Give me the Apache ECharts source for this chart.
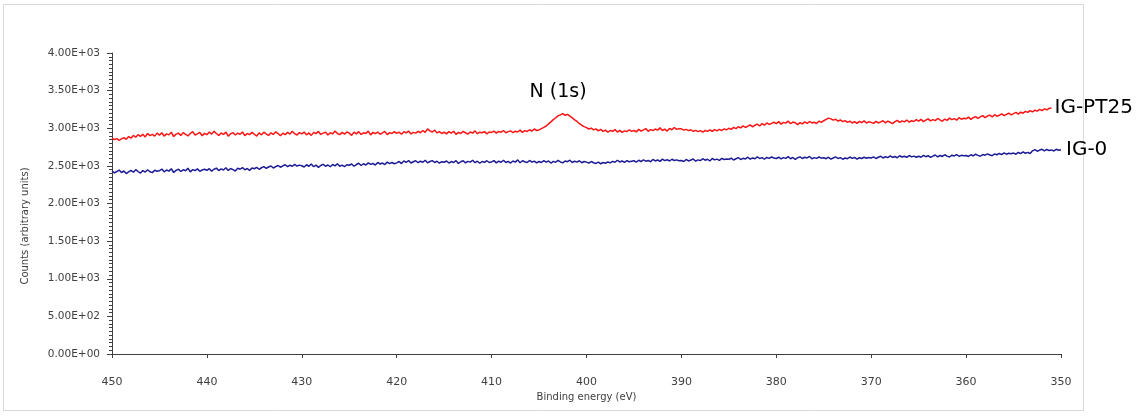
<!DOCTYPE html>
<html>
<head>
<meta charset="utf-8">
<title>XPS N (1s) region</title>
<script src="https://cdn.jsdelivr.net/npm/echarts@6/dist/echarts.min.js"></script>
<style>
  html, body { margin: 0; padding: 0; background: #ffffff; }
  #chart { width: 1147px; height: 416px; }
</style>
</head>
<body>
<div id="chart"></div>
<script>
// Binding-energy grid of the scans (eV), high to low, 0.25 eV steps
const energyStart = 450;
const energyStep = 0.25;

// IG-PT25 counts, 450 eV down to 351 eV (20 points per 5 eV)
const countsPT25 = [
  2870, 2848, 2862, 2840, 2858, 2875, 2852, 2890, 2868, 2905, 2880, 2915, 2892, 2920, 2885, 2930, 2902, 2918, 2895, 2935,
  2908, 2940, 2895, 2925, 2912, 2948, 2890, 2922, 2935, 2905, 2942, 2918, 2898, 2930, 2955, 2910, 2925, 2945, 2900, 2932,
  2915, 2950, 2922, 2960, 2930, 2905, 2938, 2918, 2948, 2895, 2928, 2940, 2910, 2935, 2920, 2950, 2902, 2930, 2915, 2945,
  2920, 2895, 2938, 2912, 2948, 2925, 2905, 2940, 2918, 2952, 2930, 2900, 2935, 2915, 2945, 2922, 2960, 2928, 2910, 2942,
  2925, 2950, 2912, 2938, 2905, 2945, 2928, 2958, 2918, 2935, 2948, 2910, 2940, 2925, 2962, 2930, 2915, 2945, 2922, 2950,
  2935, 2905, 2948, 2925, 2955, 2918, 2940, 2930, 2962, 2912, 2945, 2928, 2950, 2920, 2938, 2958, 2915, 2942, 2930, 2955,
  2932, 2948, 2920, 2955, 2938, 2962, 2925, 2945, 2935, 2958, 2940, 2970, 2945, 2992, 2965, 2950, 2975, 2938, 2955, 2930,
  2948, 2925, 2955, 2935, 2960, 2918, 2945, 2930, 2958, 2940, 2922, 2950, 2935, 2965, 2928, 2948, 2940, 2955, 2925, 2950,
  2945, 2962, 2935, 2958, 2948, 2970, 2940, 2955, 2965, 2942, 2960, 2950, 2975, 2945, 2968, 2958, 2980, 2962, 2990, 2970,
  2978, 2995, 3012, 3030, 3058, 3085, 3115, 3140, 3165, 3178, 3195, 3172, 3185, 3160, 3138, 3112, 3090, 3060, 3040, 3022,
  3008, 2990, 3002, 2978, 2992, 2965, 2985, 2958, 2975, 2948, 2970, 2960, 2982, 2950, 2972, 2945, 2965, 2955, 2980, 2958,
  2970, 2952, 2985, 2962, 2978, 2995, 2960, 2982, 2968, 2990, 2975, 3005, 2970, 2988, 2962, 2998, 2980, 3010, 2985, 2995,
  2992, 2975, 2985, 2968, 2980, 2958, 2972, 2955, 2968, 2950, 2970, 2958, 2978, 2960, 2982, 2965, 2985, 2970, 2992, 2978,
  3000, 2985, 3012, 2995, 3020, 3005, 3032, 3010, 3028, 3045, 3018, 3040, 3055, 3030, 3062, 3042, 3070, 3050, 3065, 3080,
  3062, 3088, 3055, 3078, 3068, 3095, 3060, 3082, 3072, 3048, 3075, 3058, 3085, 3065, 3090, 3070, 3080, 3062, 3095, 3078,
  3100, 3118, 3135, 3125, 3108, 3120, 3095, 3110, 3088, 3102, 3078, 3095, 3070, 3088, 3065, 3092, 3075, 3098, 3070, 3085,
  3078, 3065, 3092, 3070, 3085, 3100, 3072, 3095, 3080, 3062, 3088, 3105, 3078, 3098, 3085, 3110, 3082, 3100, 3090, 3115,
  3095, 3118, 3088, 3108, 3125, 3098, 3115, 3102, 3130, 3110, 3092, 3122, 3105, 3135, 3115, 3128, 3108, 3140, 3120, 3132,
  3125, 3148, 3118, 3140, 3155, 3132, 3150, 3168, 3140, 3162, 3175, 3150, 3180, 3160, 3172, 3190, 3168, 3185, 3200, 3178,
  3195, 3210, 3188, 3215, 3200, 3225, 3210, 3235, 3218, 3240, 3228, 3250, 3235, 3258, 3245, 3265, 3270
];

// IG-0 counts, 450 eV down to 350 eV (20 points per 5 eV)
const countsIG0 = [
  2430, 2408, 2425, 2445, 2412, 2432, 2398, 2420, 2440, 2415, 2450, 2425, 2405, 2438, 2418, 2448, 2422, 2410, 2442, 2428,
  2435, 2458, 2420, 2445, 2430, 2462, 2412, 2440, 2455, 2425, 2448, 2435, 2468, 2420, 2450, 2438, 2460, 2428, 2445, 2455,
  2440, 2462, 2430, 2455, 2470, 2438, 2460, 2445, 2475, 2440, 2465, 2450, 2432, 2468, 2455, 2478, 2448, 2465, 2440, 2472,
  2462, 2480, 2455, 2475, 2490, 2468, 2485, 2498, 2472, 2490, 2505, 2482, 2500, 2515, 2490, 2508, 2495, 2520, 2498, 2510,
  2502, 2485, 2515, 2495, 2525, 2490, 2510, 2480, 2505, 2520, 2495, 2512, 2488, 2518, 2500, 2528, 2495, 2510, 2490, 2515,
  2508, 2525, 2495, 2518, 2535, 2505, 2528, 2512, 2540, 2520, 2532, 2510, 2545, 2525, 2538, 2518, 2550, 2530, 2545, 2528,
  2540, 2558, 2530, 2565, 2545, 2572, 2538, 2555, 2568, 2542, 2562, 2548, 2575, 2540, 2558, 2570, 2545, 2562, 2535, 2555,
  2548, 2565, 2538, 2558, 2545, 2570, 2532, 2555, 2568, 2540, 2560, 2550, 2575, 2542, 2562, 2535, 2558, 2548, 2568, 2545,
  2552, 2570, 2540, 2562, 2548, 2575, 2545, 2560, 2538, 2565, 2550, 2580, 2542, 2568, 2555, 2545, 2572, 2550, 2562, 2540,
  2558, 2545, 2570, 2550, 2565, 2538, 2560, 2548, 2572, 2552, 2540, 2565, 2555, 2575, 2545, 2562, 2550, 2568, 2542, 2558,
  2550, 2538, 2558, 2542, 2532, 2550, 2528, 2545, 2535, 2552, 2540, 2560, 2548, 2575, 2552, 2565, 2545, 2570, 2555, 2562,
  2568, 2550, 2575, 2558, 2580, 2562, 2572, 2555, 2585, 2565, 2578, 2560, 2590, 2570, 2582, 2565, 2588, 2572, 2580, 2568,
  2572, 2558, 2585, 2565, 2578, 2592, 2562, 2580, 2570, 2595, 2575, 2588, 2565, 2598, 2580, 2590, 2572, 2600, 2585, 2592,
  2588, 2602, 2578, 2595, 2610, 2585, 2600, 2592, 2615, 2590, 2605, 2595, 2620, 2598, 2610, 2588, 2612, 2600, 2618, 2605,
  2598, 2615, 2592, 2610, 2600, 2622, 2595, 2612, 2585, 2608, 2620, 2598, 2615, 2605, 2625, 2595, 2610, 2600, 2618, 2602,
  2608, 2595, 2615, 2590, 2605, 2620, 2598, 2610, 2588, 2605, 2595, 2618, 2600, 2612, 2590, 2608, 2598, 2615, 2602, 2610,
  2605, 2620, 2598, 2615, 2628, 2605, 2622, 2610, 2632, 2612, 2625, 2608, 2635, 2618, 2628, 2612, 2638, 2620, 2630, 2615,
  2628, 2615, 2640, 2622, 2635, 2612, 2630, 2645, 2620, 2638, 2625, 2648, 2630, 2618, 2642, 2632, 2650, 2628, 2640, 2635,
  2638, 2625, 2648, 2632, 2655, 2640, 2628, 2650, 2642, 2660, 2645, 2635, 2658, 2648, 2665, 2650, 2672, 2655, 2668, 2660,
  2670, 2655, 2678, 2662, 2685, 2668, 2680, 2665, 2700, 2715, 2695, 2710, 2720, 2700, 2718, 2705, 2712, 2698, 2720, 2708,
  2715
];

// Peak annotation: N (1s) near 403 eV
const peakLabel = 'N (1s)';
const peakEnergy = 403;
const peakCounts = 3190;

// Axis ranges
const energyMin = 350, energyMax = 450, energyInterval = 10;
const countsMin = 0, countsMax = 4000, countsInterval = 500;

function pairs(values) {
  return values.map((v, i) => [energyStart - i * energyStep, v]);
}

function lastPoint(values) {
  const i = values.length - 1;
  return [energyStart - i * energyStep, values[i]];
}

// 2500 -> "2.50E+03"
function sci(v) {
  if (v === 0) return '0.00E+00';
  const e = Math.floor(Math.log10(Math.abs(v)));
  const m = v / Math.pow(10, e);
  return m.toFixed(2) + 'E' + (e < 0 ? '-' : '+') + String(Math.abs(e)).padStart(2, '0');
}

const FONT = 'DejaVu Sans';

// Series name written just right of the trace's last point
function nameTag(values, gap) {
  return {
    symbol: 'circle',
    symbolSize: 0,
    itemStyle: { color: 'rgba(0,0,0,0)' },
    label: {
      show: true,
      position: 'right',
      distance: gap,
      formatter: '{a}',
      fontFamily: FONT,
      fontSize: 20,
      color: '#000000'
    },
    data: [{ coord: lastPoint(values) }]
  };
}

const chart = echarts.init(document.getElementById('chart'), null, { renderer: 'canvas' });

const redTag = nameTag(countsPT25, 3);
redTag.data.push({
  coord: [peakEnergy, peakCounts],
  label: {
    show: true,
    position: 'inside',
    offset: [0, -22],
    formatter: peakLabel,
    fontFamily: FONT,
    fontSize: 19,
    color: '#000000'
  }
});

chart.setOption({
  animation: false,
  backgroundColor: '#ffffff',
  grid: { left: 112, right: 86, top: 53, bottom: 62, containLabel: false },
  xAxis: {
    type: 'value',
    inverse: true,
    min: energyMin,
    max: energyMax,
    interval: energyInterval,
    name: 'Binding energy (eV)',
    nameLocation: 'middle',
    nameGap: 27,
    nameTextStyle: { fontFamily: FONT, fontSize: 10, color: '#404040' },
    axisLine: { show: true, lineStyle: { color: '#404040', width: 1 } },
    axisTick: { show: true, inside: false, length: 4, lineStyle: { color: '#404040' } },
    axisLabel: { margin: 23, fontFamily: FONT, fontSize: 11, color: '#404040' },
    splitLine: { show: false }
  },
  yAxis: {
    type: 'value',
    min: countsMin,
    max: countsMax,
    interval: countsInterval,
    axisLine: { show: true, lineStyle: { color: '#404040', width: 1 } },
    axisTick: { show: true, inside: false, length: 5, lineStyle: { color: '#404040' } },
    minorTick: { show: true, splitNumber: 10, length: 3, lineStyle: { color: '#404040' } },
    axisLabel: { margin: 12, fontFamily: FONT, fontSize: 10.5, color: '#404040', formatter: sci },
    splitLine: { show: false }
  },
  graphic: [
    {
      type: 'rect',
      silent: true,
      z: -1,
      shape: { x: 3.5, y: 4.5, width: 1080, height: 406 },
      style: { fill: 'none', stroke: '#d9d9d9', lineWidth: 1 }
    },
    {
      type: 'text',
      silent: true,
      x: 25,
      y: 226,
      rotation: Math.PI / 2,
      style: {
        text: 'Counts (arbitrary units)',
        fontFamily: FONT,
        fontSize: 10,
        fill: '#404040',
        align: 'center',
        verticalAlign: 'middle'
      }
    }
  ],
  series: [
    {
      name: 'IG-PT25',
      type: 'line',
      data: pairs(countsPT25),
      showSymbol: false,
      symbol: 'none',
      lineStyle: { color: '#ff1414', width: 1.5 },
      itemStyle: { color: '#ff1414' },
      markPoint: redTag
    },
    {
      name: 'IG-0',
      type: 'line',
      data: pairs(countsIG0),
      showSymbol: false,
      symbol: 'none',
      lineStyle: { color: '#1c1c96', width: 1.5 },
      itemStyle: { color: '#1c1c96' },
      markPoint: nameTag(countsIG0, 5)
    }
  ]
});
</script>
</body>
</html>
